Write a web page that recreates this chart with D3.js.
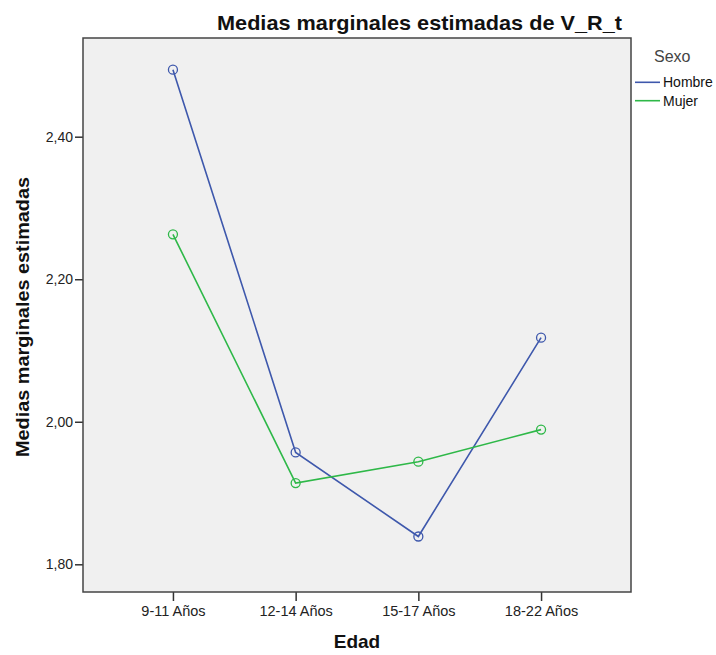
<!DOCTYPE html>
<html>
<head>
<meta charset="utf-8">
<script src="https://cdn.jsdelivr.net/npm/d3@7"></script>
<style>
  body { margin: 0; background: #fff; }
  svg text { font-family: "Liberation Sans", Arial, sans-serif; }
</style>
</head>
<body>
<svg id="chart" width="716" height="655"></svg>
<script>
// chart data
var categories = ['9-11 Años', '12-14 Años', '15-17 Años', '18-22 Años'];
var hombre = [2.494, 1.957, 1.839, 2.118];
var mujer = [2.263, 1.914, 1.944, 1.989];
var yTicks = [1.80, 2.00, 2.20, 2.40];
var seriesNames = ['Hombre', 'Mujer'];

var colors = { Hombre: '#3e58ac', Mujer: '#2eb848' };

// plot box (window.top is reserved, so prefixed names)
var plotLeft = 83, plotRight = 631, plotTop = 38, plotBottom = 592;

var svg = d3.select('#chart');

var x = d3.scalePoint()
  .domain(categories)
  .range([plotLeft, plotRight])
  .padding(0.733);

var y = d3.scaleLinear()
  .domain([1.80, 2.40])
  .range([564.3, 136.7]);

// plot background
svg.append('rect')
  .attr('x', plotLeft)
  .attr('y', plotTop)
  .attr('width', plotRight - plotLeft)
  .attr('height', plotBottom - plotTop)
  .attr('fill', '#f0f0f0');

// axes
var yAxis = d3.axisLeft(y)
  .tickValues(yTicks)
  .tickSize(8)
  .tickPadding(2)
  .tickFormat(function(d) { return d.toFixed(2).replace('.', ','); });

var gy = svg.append('g')
  .attr('transform', 'translate(' + plotLeft + ',0)')
  .call(yAxis);
gy.select('.domain').remove();
gy.selectAll('line').attr('stroke', '#333').attr('stroke-width', 1.5);
gy.selectAll('text').attr('font-size', 14).attr('fill', '#222');

var xAxis = d3.axisBottom(x)
  .tickSize(9)
  .tickPadding(5);

var gx = svg.append('g')
  .attr('transform', 'translate(0,' + plotBottom + ')')
  .call(xAxis);
gx.select('.domain').remove();
gx.selectAll('line').attr('stroke', '#333').attr('stroke-width', 1.5);
gx.selectAll('text').attr('font-size', 14.5).attr('fill', '#222');

// frame
svg.append('rect')
  .attr('x', plotLeft)
  .attr('y', plotTop)
  .attr('width', plotRight - plotLeft)
  .attr('height', plotBottom - plotTop)
  .attr('fill', 'none')
  .attr('stroke', '#444')
  .attr('stroke-width', 1.5);

// lines and markers
var series = [
  { name: 'Hombre', values: hombre },
  { name: 'Mujer', values: mujer }
];

var line = d3.line()
  .x(function(d, i) { return x(categories[i]); })
  .y(function(d) { return y(d); });

series.forEach(function(s) {
  svg.append('path')
    .datum(s.values)
    .attr('d', line)
    .attr('fill', 'none')
    .attr('stroke', colors[s.name])
    .attr('stroke-width', 1.6);

  svg.selectAll('circle.' + s.name)
    .data(s.values)
    .enter()
    .append('circle')
      .attr('class', s.name)
      .attr('cx', function(d, i) { return x(categories[i]); })
      .attr('cy', function(d) { return y(d); })
      .attr('r', 4.5)
      .attr('fill', 'none')
      .attr('stroke', colors[s.name])
      .attr('stroke-width', 1.3);
});

// titles
svg.append('text')
  .attr('x', 217)
  .attr('y', 30)
  .attr('font-size', 21)
  .attr('font-weight', 'bold')
  .attr('fill', '#111')
  .attr('textLength', 405)
  .attr('lengthAdjust', 'spacingAndGlyphs')
  .text('Medias marginales estimadas de V_R_t');

svg.append('text')
  .attr('transform', 'translate(29,317) rotate(-90)')
  .attr('text-anchor', 'middle')
  .attr('font-size', 19)
  .attr('font-weight', 'bold')
  .attr('fill', '#111')
  .attr('textLength', 280)
  .attr('lengthAdjust', 'spacingAndGlyphs')
  .text('Medias marginales estimadas');

svg.append('text')
  .attr('x', 357)
  .attr('y', 648)
  .attr('text-anchor', 'middle')
  .attr('font-size', 19)
  .attr('font-weight', 'bold')
  .attr('fill', '#111')
  .text('Edad');

// legend
svg.append('text')
  .attr('x', 654)
  .attr('y', 62)
  .attr('font-size', 16)
  .attr('fill', '#444')
  .text('Sexo');

seriesNames.forEach(function(name, i) {
  var ly = 82.3 + i * 18.4;
  svg.append('line')
    .attr('x1', 635)
    .attr('x2', 660)
    .attr('y1', ly)
    .attr('y2', ly)
    .attr('stroke', colors[name])
    .attr('stroke-width', 1.6);
  svg.append('text')
    .attr('x', 663)
    .attr('y', ly + 5)
    .attr('font-size', 14)
    .attr('fill', '#111')
    .text(name);
});
</script>
</body>
</html>
